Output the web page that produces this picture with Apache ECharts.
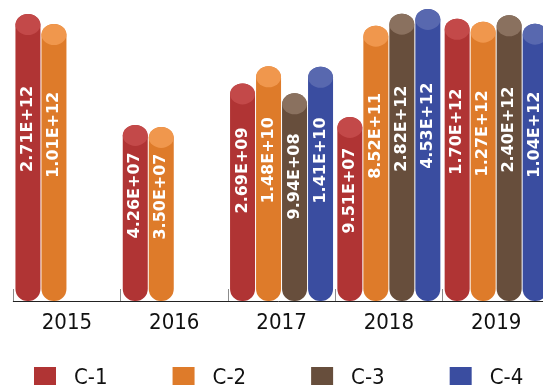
<!DOCTYPE html>
<html><head><meta charset="utf-8">
<script src="https://cdn.jsdelivr.net/npm/echarts@6/dist/echarts.min.js"></script>
<style>html,body{margin:0;padding:0;background:#fff}#c{width:543px;height:385px}</style>
</head><body><div id="c"></div>
<script>
const years = ['2015', '2016', '2017', '2018', '2019'];
const seriesNames = ['C-1', 'C-2', 'C-3', 'C-4'];
const c1 = [2.71e12, 4.26e7, 2.69e9, 9.51e7, 1.70e12];
const c2 = [1.01e12, 3.50e7, 1.48e10, 8.52e11, 1.27e12];
const c3 = [null, null, 9.94e8, 2.82e12, 2.40e12];
const c4 = [null, null, 1.41e10, 4.53e12, 1.04e12];
const values = [c1, c2, c3, c4];
const bodyColors = ['#B03434', '#DE7B2A', '#674E3C', '#3A4DA0'];
const capColors = ['#C34949', '#F0974D', '#8A715F', '#5868AF'];

const narrow = '"DejaVu Sans Condensed", "Liberation Sans", sans-serif';

function fmt(v) {
  const s = Number(v).toExponential(2).toUpperCase();
  return s.replace(/E([+-])(\d)$/, 'E$10$2');
}

const series = [];
values.forEach((arr, i) => {
  series.push({
    type: 'bar',
    name: seriesNames[i],
    data: arr.map(v => (v == null ? '-' : v)),
    barWidth: 25,
    barGap: '4%',
    z: 2,
    itemStyle: { color: bodyColors[i], borderRadius: 12 },
    label: {
      show: true,
      position: ['50%', '40%'],
      rotate: 90,
      align: 'center',
      verticalAlign: 'middle',
      color: '#fff',
      fontFamily: '"DejaVu Sans", sans-serif',
      fontWeight: 'bold',
      fontSize: 16,
      formatter: p => fmt(p.value)
    }
  });
});
values.forEach((arr, i) => {
  series.push({
    type: 'pictorialBar',
    name: seriesNames[i],
    data: arr.map(v => (v == null ? '-' : v)),
    barWidth: 25,
    barGap: '4%',
    symbol: 'circle',
    symbolSize: [25, 21],
    symbolPosition: 'end',
    symbolOffset: [0, 0],
    z: 3,
    itemStyle: { color: capColors[i] },
    silent: true
  });
});

const chart = echarts.init(document.getElementById('c'), null, { renderer: 'canvas' });
chart.setOption({
  animation: false,
  backgroundColor: '#fff',
  grid: { left: 13.3, top: 1, width: 536.5, height: 300, outerBoundsMode: 'none', containLabel: false },
  xAxis: {
    type: 'category',
    data: years,
    axisLine: { show: true, lineStyle: { color: '#222', width: 1 } },
    axisTick: { show: true, inside: true, length: 12, lineStyle: { color: '#8c8c8c', width: 1 } },
    axisLabel: { color: '#111', fontSize: 22, fontFamily: narrow, margin: 11 }
  },
  yAxis: {
    type: 'log',
    logBase: 10,
    min: 1,
    max: 1e13,
    show: false,
    splitLine: { show: false }
  },
  legend: {
    data: seriesNames,
    left: 34,
    top: 367,
    padding: 0,
    width: 540,
    icon: 'rect',
    itemWidth: 22,
    itemHeight: 22,
    itemGap: 65,
    textStyle: { color: '#111', fontSize: 22, fontFamily: narrow, padding: [0, 0, 0, 13] }
  },
  series: series
});
</script>
</body></html>
